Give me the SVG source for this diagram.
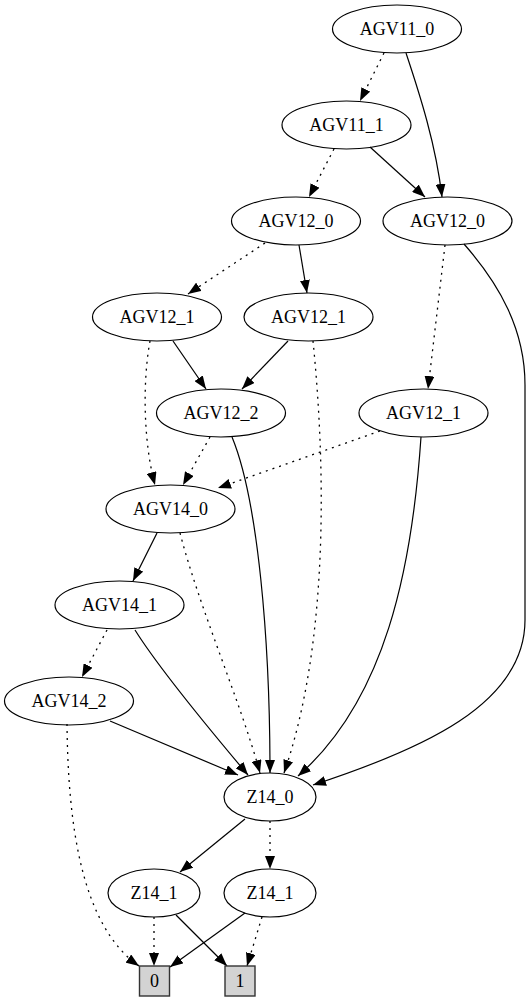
<svg xmlns="http://www.w3.org/2000/svg" width="531" height="1003" viewBox="0 0 531 1003">
<defs>
<marker id="ah" markerUnits="userSpaceOnUse" markerWidth="14" markerHeight="10" refX="13" refY="5" orient="auto"><path d="M0,0 L13,5 L0,10 z" fill="#000" stroke="none"/></marker>
<style>
.n ellipse{fill:none;stroke:#000;stroke-width:1.2}
.n text{font-family:"Liberation Serif","Times New Roman",serif;font-size:18px;text-anchor:middle;fill:#000}
.t rect{fill:#d3d3d3;stroke:#333;stroke-width:1.4}
#edges path{fill:none;stroke:#000;stroke-width:1.2;marker-end:url(#ah)}
#edges path.d{stroke-dasharray:2,5;stroke-width:1.3}
</style>
</defs>
<rect x="0" y="0" width="531" height="1003" fill="#fff"/>
<g id="edges">
<path class="d" d="M384,53 L360,101"/>
<path d="M406,53 C420,95 436,145 442,197"/>
<path d="M370,147 L425,197"/>
<path class="d" d="M334,149 L309,197"/>
<path class="d" d="M265,243 L188,294"/>
<path d="M299,245 L307,293"/>
<path d="M173,341 L206,389"/>
<path d="M288,341 L242,389"/>
<path class="d" d="M150,341 C142,385 144,445 155,485"/>
<path class="d" d="M210,437 L183,485"/>
<path class="d" d="M380,431 L218,488"/>
<path class="d" d="M313,341 C325,460 330,640 284,773"/>
<path class="d" d="M445,245 L428,389"/>
<path d="M464,244 C500,285 525,330 525,385 L525,620 C525,705 420,750 313,785"/>
<path d="M232,437 C258,500 270,640 270,773"/>
<path d="M421,437 C412,570 385,700 298,776"/>
<path d="M157,533 L133,581"/>
<path class="d" d="M180,533 C200,610 240,700 260,773"/>
<path class="d" d="M107,630 L82,677"/>
<path d="M135,630 C160,670 210,730 248,775"/>
<path d="M110,721 L238,775"/>
<path class="d" d="M67,724 C68,820 80,925 139,966"/>
<path d="M245,819 L180,872"/>
<path class="d" d="M270,821 L270,869"/>
<path class="d" d="M154,917 L154,966"/>
<path d="M176,915 L227,966"/>
<path d="M245,913 L170,967"/>
<path class="d" d="M262,917 L247,966"/>
</g>
<g id="n_agv11_0" class="n"><ellipse cx="397" cy="29" rx="64.5" ry="24"/><text x="397" y="34.5">AGV11_0</text></g>
<g id="n_agv11_1" class="n"><ellipse cx="346.5" cy="125" rx="64.5" ry="24"/><text x="346.5" y="130.5">AGV11_1</text></g>
<g id="n_agv12_0a" class="n"><ellipse cx="296" cy="221" rx="64.5" ry="24"/><text x="296" y="226.5">AGV12_0</text></g>
<g id="n_agv12_0b" class="n"><ellipse cx="447.5" cy="221" rx="64.5" ry="24"/><text x="447.5" y="226.5">AGV12_0</text></g>
<g id="n_agv12_1a" class="n"><ellipse cx="157" cy="317" rx="64.5" ry="24"/><text x="157" y="322.5">AGV12_1</text></g>
<g id="n_agv12_1b" class="n"><ellipse cx="308.5" cy="317" rx="64.5" ry="24"/><text x="308.5" y="322.5">AGV12_1</text></g>
<g id="n_agv12_2" class="n"><ellipse cx="221" cy="413" rx="64.5" ry="24"/><text x="221" y="418.5">AGV12_2</text></g>
<g id="n_agv12_1c" class="n"><ellipse cx="423.5" cy="413" rx="64.5" ry="24"/><text x="423.5" y="418.5">AGV12_1</text></g>
<g id="n_agv14_0" class="n"><ellipse cx="170.5" cy="509" rx="64.5" ry="24"/><text x="170.5" y="514.5">AGV14_0</text></g>
<g id="n_agv14_1" class="n"><ellipse cx="119.5" cy="605" rx="64.5" ry="24"/><text x="119.5" y="610.5">AGV14_1</text></g>
<g id="n_agv14_2" class="n"><ellipse cx="69" cy="701" rx="64.5" ry="24"/><text x="69" y="706.5">AGV14_2</text></g>
<g id="n_z14_0" class="n"><ellipse cx="270" cy="797" rx="46" ry="24"/><text x="270" y="802.5">Z14_0</text></g>
<g id="n_z14_1a" class="n"><ellipse cx="154" cy="893" rx="46" ry="24"/><text x="154" y="898.5">Z14_1</text></g>
<g id="n_z14_1b" class="n"><ellipse cx="270" cy="893" rx="46" ry="24"/><text x="270" y="898.5">Z14_1</text></g>
<g id="n_zero" class="n t"><rect x="139.5" y="966" width="30" height="30"/><text x="154.5" y="986.5">0</text></g>
<g id="n_one" class="n t"><rect x="225" y="966" width="30" height="30"/><text x="240" y="986.5">1</text></g>
</svg>
